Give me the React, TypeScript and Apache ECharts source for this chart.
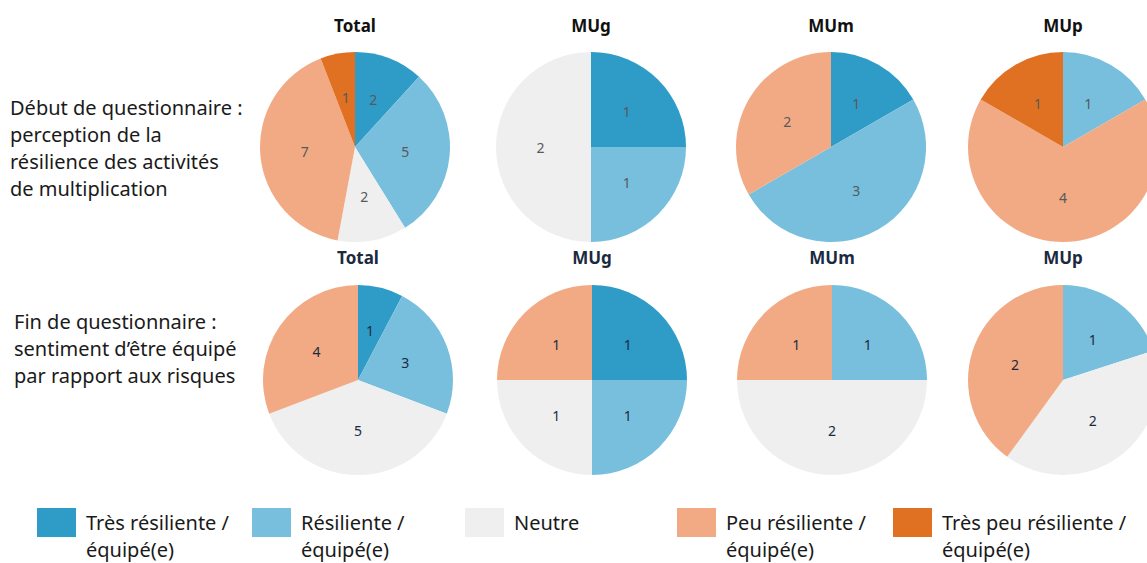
import React, { useEffect, useRef } from "react";
import * as echarts from "echarts";

const categories = [
  "Très résiliente / équipé(e)",
  "Résiliente / équipé(e)",
  "Neutre",
  "Peu résiliente / équipé(e)",
  "Très peu résiliente / équipé(e)",
];
const legendLines = [
  "Très résiliente /\néquipé(e)",
  "Résiliente /\néquipé(e)",
  "Neutre",
  "Peu résiliente /\néquipé(e)",
  "Très peu résiliente /\néquipé(e)",
];
const colors = ["#2F9BC7", "#77BFDD", "#EFEFEF", "#F2AA84", "#E07122"];

const groups = ["Total", "MUg", "MUm", "MUp"];

// values per group, in category order
const debutTotal = [2, 5, 2, 7, 1];
const debutMUg = [1, 1, 2, 0, 0];
const debutMUm = [1, 3, 0, 2, 0];
const debutMUp = [0, 1, 0, 4, 1];

const finTotal = [1, 3, 5, 4, 0];
const finMUg = [1, 1, 1, 1, 0];
const finMUm = [0, 1, 2, 1, 0];
const finMUp = [0, 1, 2, 2, 0];

const rowLabels = [
  "Début de questionnaire :\nperception de la\nrésilience des activités\nde multiplication",
  "Fin de questionnaire :\nsentiment d’être équipé\npar rapport aux risques",
];

export default function App() {
  const ref = useRef<HTMLDivElement>(null);
  useEffect(() => {
    document.body.style.margin = "0";
    const chart = echarts.init(ref.current!, null, { renderer: "svg" });
    const rows = [
      [debutTotal, debutMUg, debutMUm, debutMUp],
      [finTotal, finMUg, finMUm, finMUp],
    ];
    const centersX = [
      [355, 591, 831, 1063],
      [358, 592, 832, 1063],
    ];
    const centersY = [147, 380];
    const titleY = [25, 257];
    const labelColors = ["#595959", "#1B2A41"];
    const titleColors = ["#111111", "#1B2A41"];
    const series: any[] = [];
    const graphic: any[] = [];
    rows.forEach((row, ri) => {
      row.forEach((vals, gi) => {
        series.push({
          type: "pie",
          radius: 95,
          center: [centersX[ri][gi], centersY[ri]],
          startAngle: 90,
          clockwise: true,
          label: {
            show: true,
            position: "inside",
            formatter: "{c}",
            color: labelColors[ri],
            fontSize: 14,
            fontFamily: "Noto Sans",
          },
          labelLine: { show: false },
          emphasis: { disabled: true },
          itemStyle: { borderWidth: 0 },
          data: vals
            .map((v, i) => ({ name: categories[i], value: v, itemStyle: { color: colors[i] } }))
            .filter((d) => d.value > 0),
        });
        graphic.push({
          type: "text",
          x: centersX[ri][gi],
          y: titleY[ri],
          style: {
            text: groups[gi],
            fill: titleColors[ri],
            font: "bold 17px 'Noto Sans'",
            textAlign: "center",
            textVerticalAlign: "middle",
          },
        });
      });
    });
    const rowLabelPos = [
      [10, 94],
      [14, 308],
    ];
    rowLabels.forEach((t, i) => {
      graphic.push({
        type: "text",
        x: rowLabelPos[i][0],
        y: rowLabelPos[i][1],
        style: {
          text: t,
          fill: "#1a1a1a",
          font: "20px 'Noto Sans'",
          lineHeight: 27,
          textAlign: "left",
          textVerticalAlign: "top",
        },
      });
    });
    const legendX = [37, 252, 465, 677, 893];
    categories.forEach((c, i) => {
      graphic.push({
        type: "rect",
        shape: { x: legendX[i], y: 508, width: 39, height: 29 },
        style: { fill: colors[i] },
      });
      graphic.push({
        type: "text",
        x: legendX[i] + 49,
        y: 509,
        style: {
          text: legendLines[i],
          fill: "#1a1a1a",
          font: "20px 'Noto Sans'",
          lineHeight: 27,
          textAlign: "left",
          textVerticalAlign: "top",
        },
      });
    });
    chart.setOption({
      animation: false,
      backgroundColor: "#ffffff",
      series,
      graphic,
    });
    return () => chart.dispose();
  }, []);
  return <div ref={ref} style={{ width: 1147, height: 563 }} />;
}
